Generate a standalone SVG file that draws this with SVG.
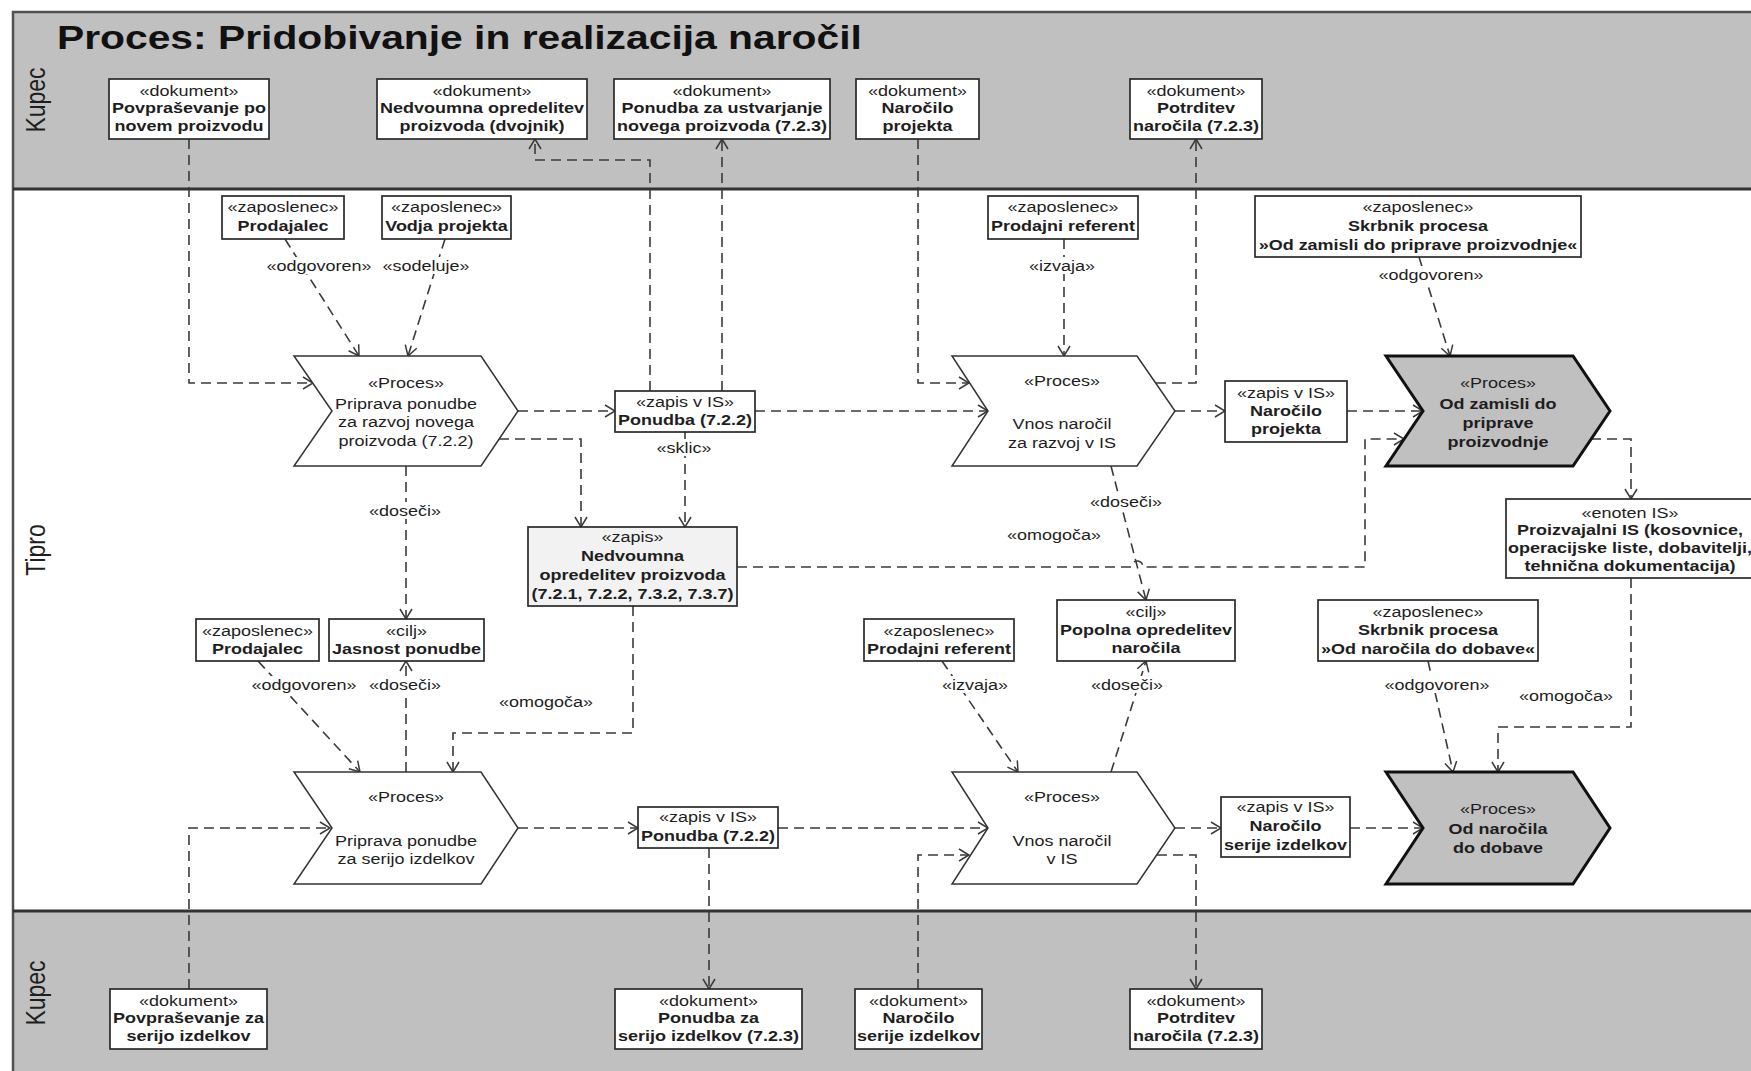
<svg xmlns="http://www.w3.org/2000/svg" width="1751" height="1071" viewBox="0 0 1751 1071">
  <style>
    .tx text { font-family: "Liberation Sans", Arial, sans-serif; font-size: 15px; text-anchor: middle; fill: #1e1e1e; }
    .tx .b { font-weight: bold; }
    .box { fill: #ffffff; stroke: #2a2a2a; stroke-width: 1.7; }
    .rec { fill: #f2f2f2; stroke: #2a2a2a; stroke-width: 1.7; }
    .proc { fill: #ffffff; stroke: #333333; stroke-width: 1.5; stroke-linejoin: miter; }
    .main { fill: #c0c0c0; stroke: #111111; stroke-width: 3; stroke-linejoin: miter; }
    .c { fill: none; stroke: #3a3a3a; stroke-width: 1.6; stroke-dasharray: 10 6; marker-end: url(#arr); }
    .lane { font-family: "Liberation Sans", Arial, sans-serif; font-size: 23px; text-anchor: middle; fill: #1e1e1e; }
    .title { font-family: "Liberation Sans", Arial, sans-serif; font-size: 34px; font-weight: bold; fill: #111111; }
    .lbg { fill: #ffffff; }
  </style>
  <defs>
    <marker id="arr" viewBox="0 0 12 14" refX="11" refY="7" markerWidth="12" markerHeight="14" markerUnits="userSpaceOnUse" orient="auto">
      <path d="M1,1 L11,7 L1,13" fill="none" stroke="#3a3a3a" stroke-width="1.5" stroke-dasharray="none"/>
    </marker>
  </defs>

  <!-- swimlanes -->
  <g id="lanes">
    <rect x="0" y="0" width="1751" height="1071" fill="#ffffff"/>
    <rect x="13" y="12" width="1760" height="177" fill="#c0c0c0"/>
    <rect x="13" y="189" width="1760" height="722" fill="#ffffff"/>
    <rect x="13" y="911" width="1760" height="170" fill="#c0c0c0"/>
    <path d="M13,1080 V12 H1760" fill="none" stroke="#505050" stroke-width="2.5"/>
    <path d="M13,189 H1760 M13,911 H1760" fill="none" stroke="#333333" stroke-width="3"/>
    <text class="lane" transform="translate(45 100) rotate(-90) scale(1 1.2)">Kupec</text>
    <text class="lane" transform="translate(45 550) rotate(-90) scale(1 1.2)">Tipro</text>
    <text class="lane" transform="translate(45 993) rotate(-90) scale(1 1.2)">Kupec</text>
    <text class="title" transform="translate(57 49) scale(1.2 1)">Proces: Pridobivanje in realizacija naročil</text>
  </g>

  <!-- connectors -->
  <g id="connectors">
    <path class="c" d="M189,139 V383 H313"/>
    <path class="c" d="M285,239 L359,356"/>
    <path class="c" d="M445,239 L408,356"/>
    <path class="c" d="M518,411 H615"/>
    <path class="c" d="M499,439 H581 V527"/>
    <path class="c" d="M650,391 V160 H535 V139"/>
    <path class="c" d="M722,391 V139"/>
    <path class="c" d="M685,432 V527"/>
    <path class="c" d="M755,411 H988"/>
    <path class="c" d="M918,139 V383 H969"/>
    <path class="c" d="M1156,383 H1196 V139"/>
    <path class="c" d="M1064,239 V356"/>
    <path class="c" d="M1175,411 H1225"/>
    <path class="c" d="M1347,411 H1423"/>
    <path class="c" d="M1419,257 L1450,356"/>
    <path class="c" d="M1111,466 L1146,600"/>
    <path class="c" d="M737,567 H1131 a6,6 0 0 1 12,0 H1365 V439 H1404"/>
    <path class="c" d="M1591,439 H1631 V499"/>
    <path class="c" d="M1631,578 V727 H1498 V772"/>
    <path class="c" d="M1428,661 L1453,772"/>
    <path class="c" d="M406,772 V661"/>
    <path class="c" d="M406,466 V619"/>
    <path class="c" d="M258,661 L360,772"/>
    <path class="c" d="M633,606 V733 H453 V772"/>
    <path class="c" d="M189,989 V828 H330"/>
    <path class="c" d="M518,828 H638"/>
    <path class="c" d="M709,848 V989"/>
    <path class="c" d="M778,828 H988"/>
    <path class="c" d="M918,989 V855 H969"/>
    <path class="c" d="M1157,855 H1196 V989"/>
    <path class="c" d="M942,661 L1018,772"/>
    <path class="c" d="M1111,772 L1146,661"/>
    <path class="c" d="M1175,828 H1221"/>
    <path class="c" d="M1350,828 H1423"/>
  </g>

  <!-- connector labels -->
  <g id="labels">
    <rect class="lbg" x="264" y="257" width="110" height="17"/>
    <rect class="lbg" x="381" y="257" width="90" height="17"/>
    <rect class="lbg" x="1027" y="257" width="70" height="17"/>
    <rect class="lbg" x="1376" y="266" width="110" height="17"/>
    <rect class="lbg" x="655" y="439" width="58" height="17"/>
    <rect class="lbg" x="367" y="502" width="76" height="17"/>
    <rect class="lbg" x="1088" y="493" width="76" height="17"/>
    <rect class="lbg" x="249" y="676" width="110" height="17"/>
    <rect class="lbg" x="367" y="676" width="76" height="17"/>
    <rect class="lbg" x="940" y="676" width="70" height="17"/>
    <rect class="lbg" x="1089" y="676" width="76" height="17"/>
    <rect class="lbg" x="1382" y="676" width="110" height="17"/>
    <g class="tx" transform="translate(319 0) scale(1.2 1)"><text y="271">«odgovoren»</text></g>
    <g class="tx" transform="translate(426 0) scale(1.2 1)"><text y="271">«sodeluje»</text></g>
    <g class="tx" transform="translate(1062 0) scale(1.2 1)"><text y="271">«izvaja»</text></g>
    <g class="tx" transform="translate(1431 0) scale(1.2 1)"><text y="280">«odgovoren»</text></g>
    <g class="tx" transform="translate(684 0) scale(1.2 1)"><text y="453">«sklic»</text></g>
    <g class="tx" transform="translate(405 0) scale(1.2 1)"><text y="516">«doseči»</text></g>
    <g class="tx" transform="translate(1126 0) scale(1.2 1)"><text y="507">«doseči»</text></g>
    <g class="tx" transform="translate(1054 0) scale(1.2 1)"><text y="540">«omogoča»</text></g>
    <g class="tx" transform="translate(304 0) scale(1.2 1)"><text y="690">«odgovoren»</text></g>
    <g class="tx" transform="translate(405 0) scale(1.2 1)"><text y="690">«doseči»</text></g>
    <g class="tx" transform="translate(546 0) scale(1.2 1)"><text y="707">«omogoča»</text></g>
    <g class="tx" transform="translate(975 0) scale(1.2 1)"><text y="690">«izvaja»</text></g>
    <g class="tx" transform="translate(1127 0) scale(1.2 1)"><text y="690">«doseči»</text></g>
    <g class="tx" transform="translate(1437 0) scale(1.2 1)"><text y="690">«odgovoren»</text></g>
    <g class="tx" transform="translate(1566 0) scale(1.2 1)"><text y="701">«omogoča»</text></g>
  </g>

  <!-- customer documents, top lane -->
  <g id="doc-povprasevanje-nov">
    <rect class="box" x="109" y="79" width="160" height="60"/>
    <g class="tx" transform="translate(189 0) scale(1.2 1)"><text y="96">«dokument»</text><text class="b" y="113">Povpraševanje po</text><text class="b" y="131">novem proizvodu</text></g>
  </g>
  <g id="doc-dvojnik">
    <rect class="box" x="377" y="79" width="210" height="60"/>
    <g class="tx" transform="translate(482 0) scale(1.2 1)"><text y="96">«dokument»</text><text class="b" y="113">Nedvoumna opredelitev</text><text class="b" y="131">proizvoda (dvojnik)</text></g>
  </g>
  <g id="doc-ponudba-nov">
    <rect class="box" x="614" y="79" width="216" height="60"/>
    <g class="tx" transform="translate(722 0) scale(1.2 1)"><text y="96">«dokument»</text><text class="b" y="113">Ponudba za ustvarjanje</text><text class="b" y="131">novega proizvoda (7.2.3)</text></g>
  </g>
  <g id="doc-narocilo-projekta">
    <rect class="box" x="856" y="79" width="123" height="60"/>
    <g class="tx" transform="translate(917.5 0) scale(1.2 1)"><text y="96">«dokument»</text><text class="b" y="113">Naročilo</text><text class="b" y="131">projekta</text></g>
  </g>
  <g id="doc-potrditev-razvoj">
    <rect class="box" x="1130" y="79" width="132" height="60"/>
    <g class="tx" transform="translate(1196 0) scale(1.2 1)"><text y="96">«dokument»</text><text class="b" y="113">Potrditev</text><text class="b" y="131">naročila (7.2.3)</text></g>
  </g>

  <!-- employees, upper row -->
  <g id="zap-prodajalec-1">
    <rect class="box" x="222" y="196" width="122" height="43"/>
    <g class="tx" transform="translate(283 0) scale(1.2 1)"><text y="212">«zaposlenec»</text><text class="b" y="231">Prodajalec</text></g>
  </g>
  <g id="zap-vodja-projekta">
    <rect class="box" x="382" y="196" width="129" height="43"/>
    <g class="tx" transform="translate(446.5 0) scale(1.2 1)"><text y="212">«zaposlenec»</text><text class="b" y="231">Vodja projekta</text></g>
  </g>
  <g id="zap-referent-1">
    <rect class="box" x="988" y="196" width="150" height="43"/>
    <g class="tx" transform="translate(1063 0) scale(1.2 1)"><text y="212">«zaposlenec»</text><text class="b" y="231">Prodajni referent</text></g>
  </g>
  <g id="zap-skrbnik-zamisli">
    <rect class="box" x="1255" y="196" width="326" height="61"/>
    <g class="tx" transform="translate(1418 0) scale(1.2 1)"><text y="212">«zaposlenec»</text><text class="b" y="231">Skrbnik procesa</text><text class="b" y="250">»Od zamisli do priprave proizvodnje«</text></g>
  </g>

  <!-- development order flow -->
  <g id="proc-priprava-razvoj">
    <polygon class="proc" points="294,356 481,356 518,411 481,466 294,466 332,411"/>
    <g class="tx" transform="translate(406 0) scale(1.2 1)"><text y="388">«Proces»</text><text y="409">Priprava ponudbe</text><text y="427">za razvoj novega</text><text y="446">proizvoda (7.2.2)</text></g>
  </g>
  <g id="zapis-ponudba-razvoj">
    <rect class="box" x="615" y="391" width="140" height="41"/>
    <g class="tx" transform="translate(685 0) scale(1.2 1)"><text y="407">«zapis v IS»</text><text class="b" y="425">Ponudba (7.2.2)</text></g>
  </g>
  <g id="zapis-nedvoumna">
    <rect class="rec" x="528" y="527" width="209" height="79"/>
    <g class="tx" transform="translate(632.5 0) scale(1.2 1)"><text y="542">«zapis»</text><text class="b" y="561">Nedvoumna</text><text class="b" y="580">opredelitev proizvoda</text><text class="b" y="599">(7.2.1, 7.2.2, 7.3.2, 7.3.7)</text></g>
  </g>
  <g id="proc-vnos-razvoj">
    <polygon class="proc" points="952,356 1137,356 1175,411 1137,466 952,466 988,411"/>
    <g class="tx" transform="translate(1062 0) scale(1.2 1)"><text y="386">«Proces»</text><text y="429">Vnos naročil</text><text y="448">za razvoj v IS</text></g>
  </g>
  <g id="zapis-narocilo-projekta">
    <rect class="box" x="1225" y="381" width="122" height="61"/>
    <g class="tx" transform="translate(1286 0) scale(1.2 1)"><text y="398">«zapis v IS»</text><text class="b" y="416">Naročilo</text><text class="b" y="434">projekta</text></g>
  </g>
  <g id="proc-od-zamisli">
    <polygon class="main" points="1386,356 1573,356 1610,411 1573,466 1386,466 1423,411"/>
    <g class="tx" transform="translate(1498 0) scale(1.2 1)"><text y="388">«Proces»</text><text class="b" y="409">Od zamisli do</text><text class="b" y="428">priprave</text><text class="b" y="447">proizvodnje</text></g>
  </g>
  <g id="enoten-is">
    <rect class="box" x="1506" y="499" width="249" height="79"/>
    <g class="tx" transform="translate(1630 0) scale(1.2 1)"><text y="518">«enoten IS»</text><text class="b" y="535">Proizvajalni IS (kosovnice,</text><text class="b" y="553">operacijske liste, dobavitelji,</text><text class="b" y="571">tehnična dokumentacija)</text></g>
  </g>

  <!-- goals and employees, lower row -->
  <g id="zap-prodajalec-2">
    <rect class="box" x="196" y="619" width="123" height="42"/>
    <g class="tx" transform="translate(257.5 0) scale(1.2 1)"><text y="636">«zaposlenec»</text><text class="b" y="654">Prodajalec</text></g>
  </g>
  <g id="cilj-jasnost">
    <rect class="box" x="329" y="619" width="155" height="42"/>
    <g class="tx" transform="translate(406.5 0) scale(1.2 1)"><text y="636">«cilj»</text><text class="b" y="654">Jasnost ponudbe</text></g>
  </g>
  <g id="zap-referent-2">
    <rect class="box" x="864" y="619" width="150" height="42"/>
    <g class="tx" transform="translate(939 0) scale(1.2 1)"><text y="636">«zaposlenec»</text><text class="b" y="654">Prodajni referent</text></g>
  </g>
  <g id="cilj-popolna">
    <rect class="box" x="1057" y="600" width="178" height="61"/>
    <g class="tx" transform="translate(1146 0) scale(1.2 1)"><text y="617">«cilj»</text><text class="b" y="635">Popolna opredelitev</text><text class="b" y="653">naročila</text></g>
  </g>
  <g id="zap-skrbnik-dobave">
    <rect class="box" x="1318" y="600" width="220" height="61"/>
    <g class="tx" transform="translate(1428 0) scale(1.2 1)"><text y="617">«zaposlenec»</text><text class="b" y="635">Skrbnik procesa</text><text class="b" y="654">»Od naročila do dobave«</text></g>
  </g>

  <!-- series order flow -->
  <g id="proc-priprava-serija">
    <polygon class="proc" points="294,772 481,772 518,828 481,884 294,884 332,828"/>
    <g class="tx" transform="translate(406 0) scale(1.2 1)"><text y="802">«Proces»</text><text y="846">Priprava ponudbe</text><text y="864">za serijo izdelkov</text></g>
  </g>
  <g id="zapis-ponudba-serija">
    <rect class="box" x="638" y="807" width="140" height="41"/>
    <g class="tx" transform="translate(708 0) scale(1.2 1)"><text y="822">«zapis v IS»</text><text class="b" y="841">Ponudba (7.2.2)</text></g>
  </g>
  <g id="proc-vnos-is">
    <polygon class="proc" points="952,772 1137,772 1175,828 1137,884 952,884 988,828"/>
    <g class="tx" transform="translate(1062 0) scale(1.2 1)"><text y="802">«Proces»</text><text y="846">Vnos naročil</text><text y="864">v IS</text></g>
  </g>
  <g id="zapis-narocilo-serije">
    <rect class="box" x="1221" y="797" width="129" height="60"/>
    <g class="tx" transform="translate(1285.5 0) scale(1.2 1)"><text y="812">«zapis v IS»</text><text class="b" y="831">Naročilo</text><text class="b" y="850">serije izdelkov</text></g>
  </g>
  <g id="proc-od-narocila">
    <polygon class="main" points="1386,772 1573,772 1610,828 1573,884 1386,884 1423,828"/>
    <g class="tx" transform="translate(1498 0) scale(1.2 1)"><text y="814">«Proces»</text><text class="b" y="834">Od naročila</text><text class="b" y="853">do dobave</text></g>
  </g>

  <!-- customer documents, bottom lane -->
  <g id="doc-povprasevanje-serija">
    <rect class="box" x="110" y="989" width="157" height="60"/>
    <g class="tx" transform="translate(188.5 0) scale(1.2 1)"><text y="1006">«dokument»</text><text class="b" y="1023">Povpraševanje za</text><text class="b" y="1041">serijo izdelkov</text></g>
  </g>
  <g id="doc-ponudba-serija">
    <rect class="box" x="615" y="989" width="187" height="60"/>
    <g class="tx" transform="translate(708.5 0) scale(1.2 1)"><text y="1006">«dokument»</text><text class="b" y="1023">Ponudba za</text><text class="b" y="1041">serijo izdelkov (7.2.3)</text></g>
  </g>
  <g id="doc-narocilo-serije">
    <rect class="box" x="855" y="989" width="127" height="60"/>
    <g class="tx" transform="translate(918.5 0) scale(1.2 1)"><text y="1006">«dokument»</text><text class="b" y="1023">Naročilo</text><text class="b" y="1041">serije izdelkov</text></g>
  </g>
  <g id="doc-potrditev-serija">
    <rect class="box" x="1130" y="989" width="132" height="60"/>
    <g class="tx" transform="translate(1196 0) scale(1.2 1)"><text y="1006">«dokument»</text><text class="b" y="1023">Potrditev</text><text class="b" y="1041">naročila (7.2.3)</text></g>
  </g>
</svg>
